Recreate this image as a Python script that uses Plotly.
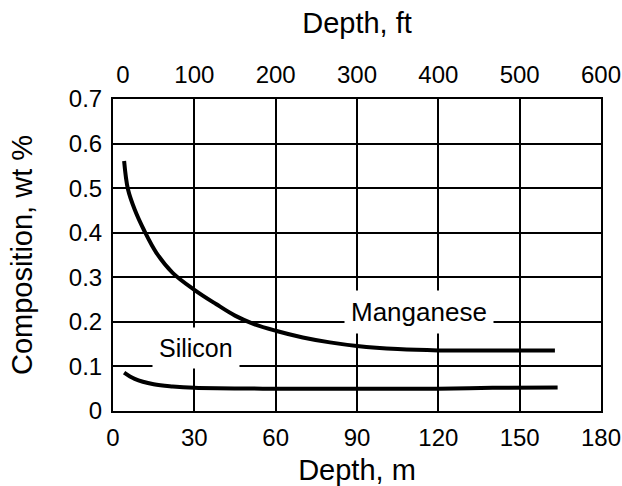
import plotly.graph_objects as go

# Data (depth in m, composition in wt %)
mn_depth = [4.1, 5.5, 8, 11.5, 16, 22, 30, 38, 45, 52, 60, 70, 80, 90, 105, 120, 140, 163]
mn_comp = [0.561, 0.498, 0.452, 0.405, 0.355, 0.310, 0.272, 0.240, 0.214, 0.195, 0.180, 0.165, 0.154, 0.146, 0.139, 0.136, 0.136, 0.136]
si_depth = [4.1, 8, 15, 22, 30, 60, 90, 120, 140, 164]
si_comp = [0.086, 0.072, 0.060, 0.055, 0.052, 0.050, 0.050, 0.050, 0.052, 0.053]

m_ticks = [0, 30, 60, 90, 120, 150, 180]
ft_ticks = [0, 100, 200, 300, 400, 500, 600]
ft_labels = ["\u00a0\u00a0\u00a00", "100", "200", "300", "400", "500", "600"]
y_ticks = [0, 0.1, 0.2, 0.3, 0.4, 0.5, 0.6, 0.7]
y_labels = ["0", "0.1", "0.2", "0.3", "0.4", "0.5", "0.6", "0.7"]

FONT = "Liberation Sans, Arial, sans-serif"
fig = go.Figure()
fig.add_trace(go.Scatter(x=mn_depth, y=mn_comp, mode="lines",
                         line=dict(color="black", width=4, shape="spline", smoothing=1.0),
                         name="Manganese", showlegend=False))
fig.add_trace(go.Scatter(x=si_depth, y=si_comp, mode="lines",
                         line=dict(color="black", width=4, shape="spline", smoothing=1.0),
                         name="Silicon", showlegend=False))

fig.add_annotation(x=113, y=0.222, text="Manganese", showarrow=False, bgcolor="white", borderpad=6,
                   font=dict(family=FONT, size=26, color="black"))
fig.add_annotation(x=30.5, y=0.142, text="Silicon", showarrow=False, bgcolor="white", borderpad=6,
                   font=dict(family=FONT, size=25, color="black"))

fig.update_layout(
    width=622, height=486,
    margin=dict(l=113, r=21, t=99, b=75),
    paper_bgcolor="white", plot_bgcolor="white",
    font=dict(family=FONT, size=24, color="black"),
    xaxis=dict(range=[0, 180], tickvals=m_ticks, showgrid=True, gridcolor="black", gridwidth=2,
               showline=True, linecolor="black", linewidth=2, mirror=True, zeroline=False, ticks="",
               ticklabeloverflow="allow", ticklabelstandoff=4, automargin=False,
               title=dict(text="Depth, m", standoff=23)),
    xaxis2=dict(range=[0, 600], tickvals=ft_ticks, ticktext=ft_labels, overlaying="x", side="top",
                showgrid=False, showline=False, zeroline=False, ticks="", ticklabeloverflow="allow",
                ticklabelstandoff=10, automargin=False, title=dict(text="Depth, ft", standoff=19)),
    yaxis=dict(range=[0, 0.7], tickvals=y_ticks, ticktext=y_labels, showgrid=True, gridcolor="black", gridwidth=2,
               showline=True, linecolor="black", linewidth=2, mirror=True, zeroline=False, ticks="",
               ticklabeloverflow="allow", ticklabelstandoff=4, automargin=False,
               title=dict(text="Composition, wt %", standoff=28)),
)
fig.add_trace(go.Scatter(x=[0, 600], y=[None, None], xaxis="x2", showlegend=False, hoverinfo="skip"))
fig.write_html("out.html", config={"displayModeBar": False},
               post_script="document.body.style.margin='0';")
